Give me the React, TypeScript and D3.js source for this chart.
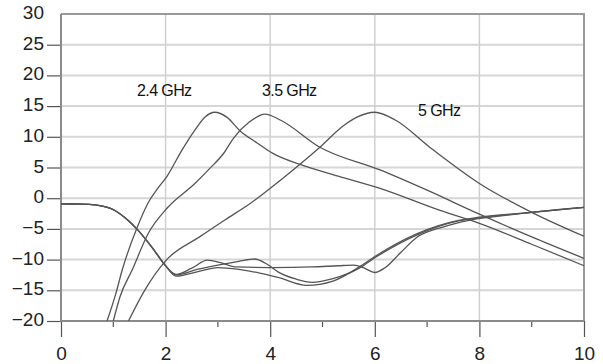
import {useEffect, useRef} from "react";
import * as d3 from "d3";

// x ticks (major) and y ticks
const xMajor = [0, 2, 4, 6, 8, 10];
const xMinor = [1, 3, 5, 7, 9];
const yTicks = [-20, -15, -10, -5, 0, 5, 10, 15, 20, 25, 30];

// shared start of the three lower curves
const lowX = [0, 0.4, 0.65, 1.03, 1.28, 1.47, 1.74, 1.99];
const lowY = [-0.9, -0.95, -1.1, -2.0, -3.6, -5.2, -8.0, -10.9];

// lower curves (tails after x = 2)
const low1X = [2.2, 2.5, 2.8, 3.05, 3.35, 4.0, 4.8, 5.3, 5.6, 5.8, 6.0, 6.2, 6.5, 6.8, 7.3, 7.8, 8.5, 9.2, 10];
const low1Y = [-12.4, -11.4, -10.1, -10.5, -11.2, -11.3, -11.2, -11.0, -10.9, -11.4, -12.1, -11.3, -8.8, -6.4, -4.7, -3.6, -2.8, -2.1, -1.5];
const low2X = [2.2, 2.6, 3.0, 3.4, 3.7, 3.95, 4.15, 4.5, 4.8, 5.2, 5.72, 6.0, 6.8, 7.6, 8, 9, 10];
const low2Y = [-12.5, -11.6, -10.9, -10.3, -9.9, -10.8, -12, -13.2, -13.7, -13.1, -11.3, -9.7, -6.0, -3.7, -3.2, -2.3, -1.5];
const low3X = [2.2, 2.6, 3.0, 3.4, 3.8, 4.15, 4.7, 5.2, 5.72, 6.0, 6.8, 7.6, 8, 9, 10];
const low3Y = [-12.7, -12.0, -11.3, -11.6, -12.2, -12.9, -14.2, -13.5, -11.1, -9.5, -5.8, -3.6, -3.1, -2.3, -1.5];

// upper curves
const g24X = [0.88, 1.05, 1.17, 1.45, 1.67, 1.85, 2.03, 2.31, 2.56, 2.75, 2.94, 3.17, 3.42, 3.75, 4.05, 4.57, 5.3, 6.1, 7.25, 8.0, 9.0, 10];
const g24Y = [-20, -15.5, -11.7, -4.9, -0.7, 1.6, 3.6, 7.8, 11.1, 13.2, 14, 13.2, 11, 9, 7.3, 5.5, 3.6, 1.6, -2, -4.1, -7.5, -11];
const g35X = [1.0, 1.13, 1.36, 1.67, 2.03, 2.56, 2.85, 3.1, 3.3, 3.6, 3.9, 4.2, 4.95, 6.1, 7, 8, 9, 10];
const g35Y = [-20, -16, -11.7, -5.7, -1.6, 2.4, 4.9, 7.2, 9.8, 12.4, 13.7, 12.7, 8.3, 4.6, 1.3, -2.6, -6.3, -9.8];
const g5X = [1.29, 1.6, 2.0, 2.65, 3.14, 3.61, 4.19, 4.95, 5.4, 5.66, 6.0, 6.4, 7.05, 8.0, 9.0, 10];
const g5Y = [-20, -15, -10.2, -6.3, -3.5, -0.9, 2.9, 8.3, 11.8, 13.2, 14, 12.7, 8.3, 2.4, -2.3, -6.2];

const labels = ["2.4 GHz", "3.5 GHz", "5 GHz"];
const labelX = [137, 262, 418];
const labelY = [95.5, 96, 116];

export default function App() {
    const ref = useRef<SVGSVGElement>(null);

    useEffect(() => {
        const svg = d3.select(ref.current);
        svg.selectAll("*").remove();

        const x = d3.scaleLinear().domain([0, 10]).range([61, 584]);
        const y = d3.scaleLinear().domain([-20, 30]).range([321, 14]);
        const font = "'Liberation Sans', Arial, sans-serif";

        svg.append("rect").attr("width", 603).attr("height", 364).attr("fill", "white");

        // grid
        svg.append("g")
            .selectAll("line")
            .data(yTicks.filter(d => d > -20 && d < 30))
            .enter()
            .append("line")
            .attr("x1", x(0)).attr("x2", x(10))
            .attr("y1", d => y(d)).attr("y2", d => y(d))
            .attr("stroke", "#d6d6d6").attr("stroke-width", 2);
        svg.append("g")
            .selectAll("line")
            .data(xMajor.filter(d => d > 0 && d < 10))
            .enter()
            .append("line")
            .attr("y1", y(-20)).attr("y2", y(30))
            .attr("x1", d => x(d)).attr("x2", d => x(d))
            .attr("stroke", "#d0d0d0").attr("stroke-width", 1.5);

        // frame
        svg.append("path")
            .attr("d", `M${x(0)},${y(30)}H${x(10)}V${y(-20)}`)
            .attr("fill", "none").attr("stroke", "#9a9a9a").attr("stroke-width", 2);

        // y axis
        const ya = svg.append("g")
            .attr("transform", `translate(${x(0)},0)`)
            .call(d3.axisLeft(y).tickValues(yTicks).tickSize(14).tickPadding(3));
        ya.select(".domain").remove();
        ya.selectAll(".tick line").attr("stroke", "#555").attr("stroke-width", 1.2);
        ya.selectAll(".tick text")
            .attr("font-size", "19px").attr("font-family", font).attr("fill", "#222").attr("dy", "0.24em");
        ya.selectAll(".tick").filter(d => d === 30).select("line").remove();

        // x axis
        const xa = svg.append("g")
            .attr("transform", `translate(0,${y(-20)})`)
            .call(d3.axisBottom(x).tickValues(xMajor).tickSize(16).tickPadding(9.5));
        xa.select(".domain").remove();
        xa.selectAll(".tick line").attr("stroke", "#555").attr("stroke-width", 1.2);
        xa.selectAll(".tick text")
            .attr("font-size", "19px").attr("font-family", font).attr("fill", "#222");
        svg.append("g")
            .selectAll("line")
            .data(xMinor)
            .enter()
            .append("line")
            .attr("x1", d => x(d)).attr("x2", d => x(d))
            .attr("y1", y(-20)).attr("y2", y(-20) + 6)
            .attr("stroke", "#555").attr("stroke-width", 1.2);

        // axis lines
        svg.append("path")
            .attr("d", `M${x(0)},${y(30)}V${y(-20)}H${x(10)}`)
            .attr("fill", "none").attr("stroke", "#8a8a8a").attr("stroke-width", 2);

        // curves
        svg.append("clipPath").attr("id", "plotclip")
            .append("rect")
            .attr("x", x(0)).attr("y", y(30))
            .attr("width", x(10) - x(0)).attr("height", y(-20) - y(30));

        const line = d3.line<[number, number]>()
            .x(d => x(d[0]))
            .y(d => y(d[1]))
            .curve(d3.curveMonotoneX);

        const zip = (xs: number[], ys: number[]) => xs.map((v, i) => [v, ys[i]] as [number, number]);
        const low = zip(lowX, lowY);
        const series = [
            low.concat(zip(low1X, low1Y)),
            low.concat(zip(low2X, low2Y)),
            low.concat(zip(low3X, low3Y)),
            zip(g24X, g24Y),
            zip(g35X, g35Y),
            zip(g5X, g5Y),
        ];

        svg.append("g")
            .attr("clip-path", "url(#plotclip)")
            .selectAll("path")
            .data(series)
            .enter()
            .append("path")
            .attr("d", d => line(d))
            .attr("fill", "none")
            .attr("stroke", "#555")
            .attr("stroke-width", 1.3);

        // labels
        svg.append("g")
            .selectAll("text")
            .data(labels)
            .enter()
            .append("text")
            .attr("x", (d, i) => labelX[i])
            .attr("y", (d, i) => labelY[i])
            .text(d => d)
            .attr("font-size", "16px")
            .attr("font-family", font)
            .attr("letter-spacing", "-0.6px")
            .attr("fill", "#111");
    }, []);

    return <svg ref={ref} width={603} height={364} style={{position: "absolute", left: 0, top: 0}}></svg>;
}
